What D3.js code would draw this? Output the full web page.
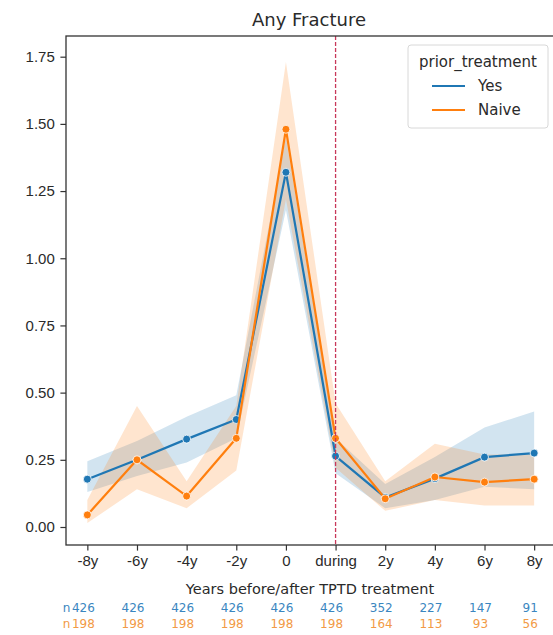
<!DOCTYPE html>
<html>
<head>
<meta charset="utf-8">
<script src="https://cdn.jsdelivr.net/npm/d3@7"></script>
<style>
  body { margin: 0; background: #fff; overflow: hidden; }
  svg { font-family: "DejaVu Sans", sans-serif; display: block; }
</style>
</head>
<body>
<div id="chart-area"></div>
<script>
// Data
var periods = ["-8y", "-6y", "-4y", "-2y", "0", "during", "2y", "4y", "6y", "8y"];
var yesMean = [0.178, 0.25, 0.327, 0.40, 1.32, 0.264, 0.11, 0.18, 0.26, 0.275];
var yesLo   = [0.13, 0.19, 0.24, 0.33, 1.18, 0.20, 0.07, 0.10, 0.15, 0.14];
var yesHi   = [0.245, 0.32, 0.41, 0.49, 1.45, 0.33, 0.16, 0.26, 0.37, 0.43];
var naiveMean = [0.045, 0.25, 0.115, 0.33, 1.48, 0.33, 0.105, 0.186, 0.167, 0.178];
var naiveLo   = [0.015, 0.14, 0.07, 0.21, 1.22, 0.22, 0.06, 0.10, 0.08, 0.08];
var naiveHi   = [0.10, 0.45, 0.17, 0.45, 1.73, 0.46, 0.17, 0.31, 0.27, 0.27];
var yesN   = [426, 426, 426, 426, 426, 426, 352, 227, 147, 91];
var naiveN = [198, 198, 198, 198, 198, 198, 164, 113, 93, 56];
var yTicks = [0, 0.25, 0.5, 0.75, 1.0, 1.25, 1.5, 1.75];

var W = 553, H = 635;
var plot = { left: 66, right: 555.5, top: 36, bottom: 545 };

var svg = d3.select("#chart-area")
    .append("svg")
        .attr("width", W)
        .attr("height", H);

var x = d3.scaleLinear()
    .domain([-0.43, 9.43])
    .range([plot.left, plot.right]);

var y = d3.scaleLinear()
    .domain([-0.067, 1.827])
    .range([plot.bottom, plot.top]);

var blue = "#1f77b4", orange = "#ff7f0e";

var series = [
    { name: "Yes", color: blue, mean: yesMean, lo: yesLo, hi: yesHi },
    { name: "Naive", color: orange, mean: naiveMean, lo: naiveLo, hi: naiveHi }
];

// Confidence bands
var area = d3.area()
    .x(function(d, i){ return x(i); })
    .y0(function(d){ return y(d[0]); })
    .y1(function(d){ return y(d[1]); });

series.forEach(function(s) {
    var pts = s.lo.map(function(v, i){ return [v, s.hi[i]]; });
    svg.append("path")
        .attr("d", area(pts))
        .attr("fill", s.color)
        .attr("fill-opacity", 0.2);
});

// Lines + markers
var line = d3.line()
    .x(function(d, i){ return x(i); })
    .y(function(d){ return y(d); });

series.forEach(function(s) {
    svg.append("path")
        .attr("d", line(s.mean))
        .attr("fill", "none")
        .attr("stroke", s.color)
        .attr("stroke-width", 2.2);
    svg.selectAll(null)
        .data(s.mean)
        .enter()
        .append("circle")
            .attr("cx", function(d, i){ return x(i); })
            .attr("cy", function(d){ return y(d); })
            .attr("r", 4)
            .attr("fill", s.color)
            .attr("stroke", "#fff")
            .attr("stroke-width", 0.8);
});

// Vertical dashed line at "during"
svg.append("line")
    .attr("x1", x(5)).attr("x2", x(5))
    .attr("y1", plot.top).attr("y2", plot.bottom)
    .attr("stroke", "#c8385a")
    .attr("stroke-width", 1.3)
    .attr("stroke-dasharray", "4,2");

// Axes
var xAxisCall = d3.axisBottom(x)
    .tickValues(d3.range(periods.length))
    .tickFormat(function(d){ return periods[d]; })
    .tickSize(5.6)
    .tickPadding(5);
var xg = svg.append("g")
    .attr("transform", "translate(0," + plot.bottom + ")")
    .call(xAxisCall);

var yAxisCall = d3.axisLeft(y)
    .tickValues(yTicks)
    .tickFormat(d3.format(".2f"))
    .tickSize(5.6)
    .tickPadding(5.6);
var yg = svg.append("g")
    .attr("transform", "translate(" + plot.left + ",0)")
    .call(yAxisCall);

[xg, yg].forEach(function(g) {
    g.select(".domain").remove();
    g.selectAll("text").attr("font-size", "15px").attr("fill", "#2a2a2a");
    g.selectAll("line").attr("stroke", "#333").attr("stroke-width", 1.2);
});

// Frame
svg.append("rect")
    .attr("x", plot.left)
    .attr("y", plot.top)
    .attr("width", plot.right - plot.left)
    .attr("height", plot.bottom - plot.top)
    .attr("fill", "none")
    .attr("stroke", "#333")
    .attr("stroke-width", 1.3);

// Title
svg.append("text")
    .attr("x", 309)
    .attr("y", 26)
    .attr("text-anchor", "middle")
    .attr("font-size", "18px")
    .attr("fill", "#2a2a2a")
    .text("Any Fracture");

// X Label
svg.append("text")
    .attr("x", 310)
    .attr("y", 594)
    .attr("text-anchor", "middle")
    .attr("font-size", "14.5px")
    .attr("fill", "#2a2a2a")
    .text("Years before/after TPTD treatment");

// n rows under the axis
[[yesN, "#3a86c0", 612], [naiveN, "#f29a45", 628]].forEach(function(r) {
    svg.selectAll(null)
        .data(r[0])
        .enter()
        .append("text")
            .attr("x", function(d, i){ return x(i) - 4; })
            .attr("y", r[2])
            .attr("text-anchor", "middle")
            .attr("font-size", "12px")
            .attr("fill", r[1])
            .text(function(d){ return d; });
    svg.append("text")
        .attr("x", x(0) - 17)
        .attr("y", r[2])
        .attr("text-anchor", "end")
        .attr("font-size", "12px")
        .attr("fill", r[1])
        .text("n");
});

// Legend
var lg = svg.append("g").attr("transform", "translate(408,45)");
lg.append("rect")
    .attr("width", 140).attr("height", 83)
    .attr("rx", 3)
    .attr("fill", "#fff").attr("fill-opacity", 0.8)
    .attr("stroke", "#d8d8d8");
lg.append("text")
    .attr("x", 70).attr("y", 22)
    .attr("text-anchor", "middle")
    .attr("font-size", "15px")
    .attr("fill", "#2a2a2a")
    .text("prior_treatment");
series.forEach(function(s, i) {
    var yy = 41 + i * 24;
    lg.append("line")
        .attr("x1", 24).attr("x2", 57)
        .attr("y1", yy).attr("y2", yy)
        .attr("stroke", s.color).attr("stroke-width", 2.2);
    lg.append("text")
        .attr("x", 70).attr("y", yy + 5)
        .attr("font-size", "15px")
        .attr("fill", "#2a2a2a")
        .text(s.name);
});
</script>
</body>
</html>
